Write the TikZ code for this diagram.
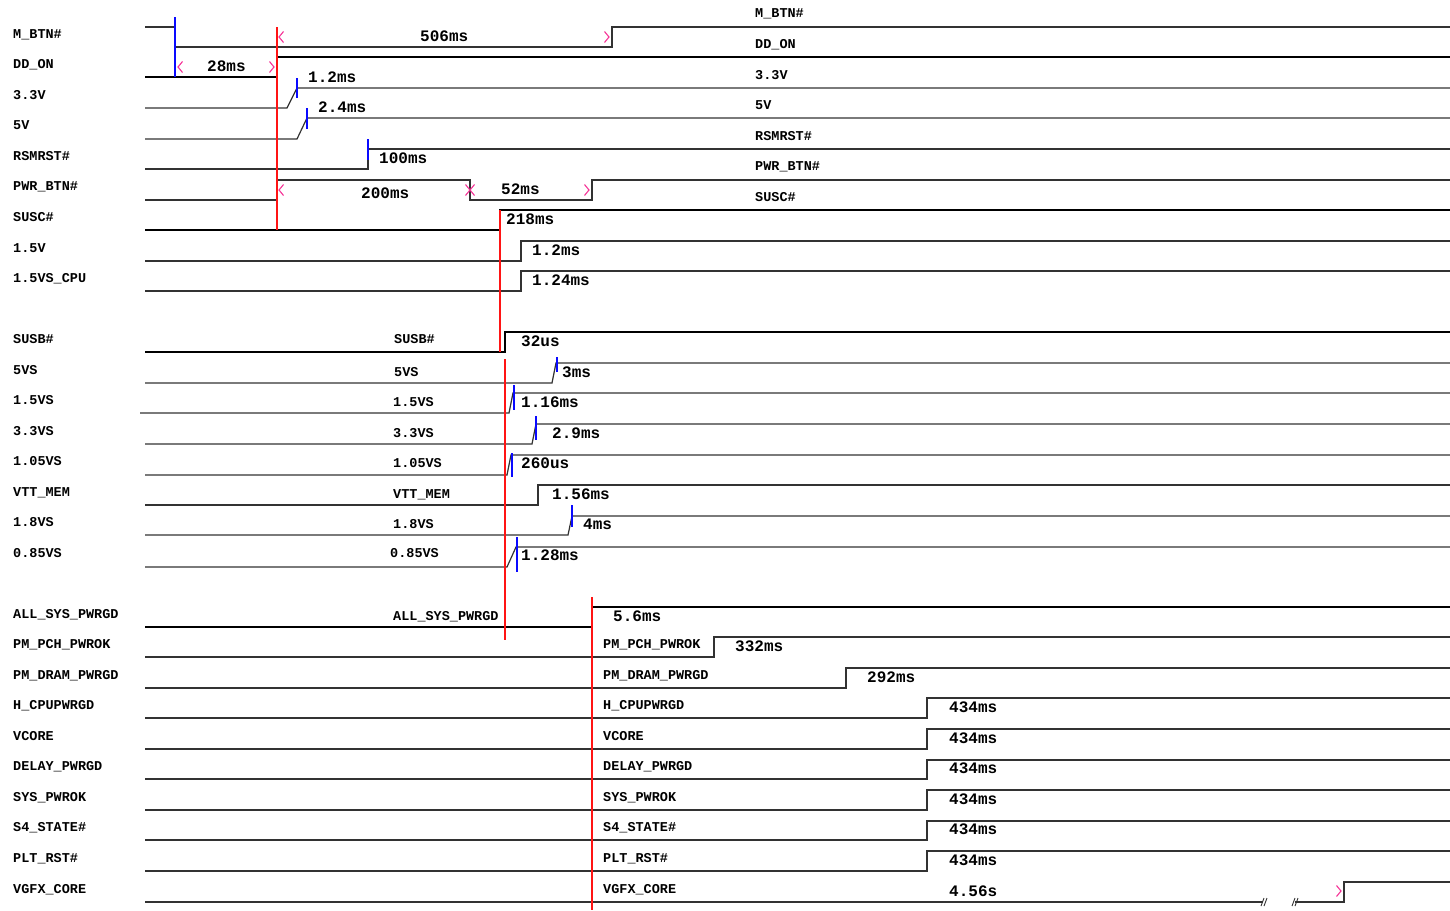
\documentclass[tikz,border=0pt]{standalone}
\usepackage{fontspec}
\setmainfont{Liberation Mono}
\usetikzlibrary{positioning}
\definecolor{WaveGray}{RGB}{50,50,50}
\definecolor{CursorRed}{RGB}{255,20,20}
\definecolor{TickBlue}{RGB}{10,10,255}
\definecolor{ChevPink}{RGB}{245,50,150}
\tikzset{
	lchev/.pic={\draw[ChevPink, line width=1.1pt] (4.5,-5.5) -- (0,0) -- (4.5,5.5);},
	rchev/.pic={\draw[ChevPink, line width=1.1pt] (-4.5,-5.5) -- (0,0) -- (-4.5,5.5);}
}
\begin{document}
\begin{tikzpicture}[
	x=1pt,
	y=-1pt,
	wave/.style={
		draw=WaveGray,
		line width=1.2pt
	},
	buswave/.style={
		draw=black,
		line width=2.8pt
	},
	cursor/.style={
		draw=CursorRed,
		line width=1.4pt
	},
	ticker/.style={
		draw=TickBlue,
		line width=1.4pt
	},
	siglabel/.style={
		anchor=base west,
		inner sep=0pt,
		font=\fontsize{13.5}{14}\selectfont\bfseries
	},
	durlabel/.style={
		anchor=base west,
		inner sep=0pt,
		font=\fontsize{16}{16}\selectfont\bfseries
	}
	]
	
	\useasboundingbox (0,0) rectangle (1450,910);
	
	\node[siglabel] (nMBTN) at (13,38) {M\_BTN\#};
	\node[siglabel] (nDDON) at (13,68) {DD\_ON};
	\node[siglabel] (n33V) at (13,99) {3.3V};
	\node[siglabel] (n5V) at (13,129) {5V};
	\node[siglabel] (nRSMRST) at (13,160) {RSMRST\#};
	\node[siglabel] (nPWRBTN) at (13,190) {PWR\_BTN\#};
	\node[siglabel] (nSUSC) at (13,221) {SUSC\#};
	\node[siglabel] (n15V) at (13,252) {1.5V};
	\node[siglabel] (n15VSCPU) at (13,282) {1.5VS\_CPU};
	\node[siglabel] (nSUSB) at (13,343) {SUSB\#};
	\node[siglabel] (n5VS) at (13,374) {5VS};
	\node[siglabel] (n15VS) at (13,404) {1.5VS};
	\node[siglabel] (n33VS) at (13,435) {3.3VS};
	\node[siglabel] (n105VS) at (13,465) {1.05VS};
	\node[siglabel] (nVTT) at (13,496) {VTT\_MEM};
	\node[siglabel] (n18VS) at (13,526) {1.8VS};
	\node[siglabel] (n085VS) at (13,557) {0.85VS};
	\node[siglabel] (nALLSYS) at (13,618) {ALL\_SYS\_PWRGD};
	\node[siglabel] (nPCH) at (13,648) {PM\_PCH\_PWROK};
	\node[siglabel] (nDRAM) at (13,679) {PM\_DRAM\_PWRGD};
	\node[siglabel] (nHCPU) at (13,709) {H\_CPUPWRGD};
	\node[siglabel] (nVCORE) at (13,740) {VCORE};
	\node[siglabel] (nDELAY) at (13,770) {DELAY\_PWRGD};
	\node[siglabel] (nSYSOK) at (13,801) {SYS\_PWROK};
	\node[siglabel] (nS4) at (13,831) {S4\_STATE\#};
	\node[siglabel] (nPLT) at (13,862) {PLT\_RST\#};
	\node[siglabel] (nVGFX) at (13,893) {VGFX\_CORE};
	
	\node[siglabel] (rMBTN) at (755,17) {M\_BTN\#};
	\node[siglabel] (rDDON) at (755,48) {DD\_ON};
	\node[siglabel] (r33V) at (755,79) {3.3V};
	\node[siglabel] (r5V) at (755,109) {5V};
	\node[siglabel] (rRSMRST) at (755,140) {RSMRST\#};
	\node[siglabel] (rPWRBTN) at (755,170) {PWR\_BTN\#};
	\node[siglabel] (rSUSC) at (755,201) {SUSC\#};
	
	\node[siglabel] (mSUSB) at (394,343) {SUSB\#};
	\node[siglabel] (m5VS) at (394,376) {5VS};
	\node[siglabel] (m15VS) at (393,406) {1.5VS};
	\node[siglabel] (m33VS) at (393,437) {3.3VS};
	\node[siglabel] (m105VS) at (393,467) {1.05VS};
	\node[siglabel] (mVTT) at (393,498) {VTT\_MEM};
	\node[siglabel] (m18VS) at (393,528) {1.8VS};
	\node[siglabel] (m085VS) at (390,557) {0.85VS};
	\node[siglabel] (mALLSYS) at (393,620) {ALL\_SYS\_PWRGD};
	
	\node[siglabel] (pPCH) at (603,648) {PM\_PCH\_PWROK};
	\node[siglabel] (pDRAM) at (603,679) {PM\_DRAM\_PWRGD};
	\node[siglabel] (pHCPU) at (603,709) {H\_CPUPWRGD};
	\node[siglabel] (pVCORE) at (603,740) {VCORE};
	\node[siglabel] (pDELAY) at (603,770) {DELAY\_PWRGD};
	\node[siglabel] (pSYSOK) at (603,801) {SYS\_PWROK};
	\node[siglabel] (pS4) at (603,831) {S4\_STATE\#};
	\node[siglabel] (pPLT) at (603,862) {PLT\_RST\#};
	\node[siglabel] (pVGFX) at (603,893) {VGFX\_CORE};
	
	\draw[wave] (145,27) -- (175,27) -- (175,47) -- (612,47) -- (612,27) -- (1450,27);
	\draw[buswave] (145,77) -- (277,77) -- (277,57) -- (1450,57);
	\draw[wave] (145,108) -- (287,108) -- (297,88) -- (1450,88);
	\draw[wave] (145,139) -- (297,139) -- (307,118) -- (1450,118);
	\draw[wave] (145,169) -- (368,169) -- (368,149) -- (1450,149);
	\draw[wave] (145,200) -- (277,200) -- (277,180) -- (470,180) -- (470,200) -- (592,200) -- (592,180) -- (1450,180);
	\draw[buswave] (145,230) -- (500,230) -- (500,210) -- (1450,210);
	\draw[wave] (145,261) -- (521,261) -- (521,241) -- (1450,241);
	\draw[wave] (145,291) -- (521,291) -- (521,271) -- (1450,271);
	
	\draw[buswave] (145,352) -- (505,352) -- (505,332) -- (1450,332);
	\draw[wave] (145,383) -- (552,383) -- (556,363) -- (1450,363);
	\draw[wave] (140,413) -- (509,413) -- (513,393) -- (1450,393);
	\draw[wave] (145,444) -- (532,444) -- (536,424) -- (1450,424);
	\draw[wave] (145,475) -- (507,475) -- (511,455) -- (1450,455);
	\draw[wave] (145,505) -- (538,505) -- (538,485) -- (1450,485);
	\draw[wave] (145,535) -- (568,535) -- (572,516) -- (1450,516);
	\draw[wave] (145,567) -- (507,567) -- (516,547) -- (1450,547);
	
	\draw[buswave] (145,627) -- (592,627) -- (592,607) -- (1450,607);
	\draw[wave] (145,657) -- (714,657) -- (714,637) -- (1450,637);
	\draw[wave] (145,688) -- (846,688) -- (846,668) -- (1450,668);
	\draw[wave] (145,718) -- (927,718) -- (927,698) -- (1450,698);
	\draw[wave] (145,749) -- (927,749) -- (927,729) -- (1450,729);
	\draw[wave] (145,779) -- (927,779) -- (927,760) -- (1450,760);
	\draw[wave] (145,810) -- (927,810) -- (927,790) -- (1450,790);
	\draw[wave] (145,840) -- (927,840) -- (927,821) -- (1450,821);
	\draw[wave] (145,871) -- (927,871) -- (927,851) -- (1450,851);
	\draw[wave] (145,902) -- (1263,902);
	\draw[wave] (1295,902) -- (1344,902) -- (1344,882) -- (1450,882);
	\draw[wave, line width=0.9pt] (1261,906) -- (1264,898) (1264,906) -- (1267,898);
	\draw[wave, line width=0.9pt] (1292,906) -- (1295,898) (1295,906) -- (1298,898);
	\draw[wave, line width=2pt] (1365,760) -- (1375,760) (1365,790) -- (1385,790) (1344,821) -- (1365,821);
	
	\draw[ticker] (175,17) -- (175,77);
	\draw[ticker] (297,78) -- (297,98);
	\draw[ticker] (307,108) -- (307,129);
	\draw[ticker] (368,139) -- (368,160);
	\draw[ticker] (557,357) -- (557,372);
	\draw[ticker] (514,385) -- (514,410);
	\draw[ticker] (536,416) -- (536,440);
	\draw[ticker] (512,453) -- (512,477);
	\draw[ticker] (572,505) -- (572,527);
	\draw[ticker] (517,537) -- (517,572);
	
	\draw[cursor] (277,27) -- (277,230);
	\draw[cursor] (500,210) -- (500,352);
	\draw[cursor] (505,359) -- (505,640);
	\draw[cursor] (592,597) -- (592,910);
	
	\pic at (178,67) {lchev};
	\pic at (274,67) {rchev};
	\pic at (279,37) {lchev};
	\pic at (609,37) {rchev};
	\pic at (279,190) {lchev};
	\pic at (470,190) {rchev};
	\pic at (470,190) {lchev};
	\pic at (589,190) {rchev};
	\pic at (1341,891) {rchev};
	
	\node[durlabel] (d506) at (420,41) {506ms};
	\node[durlabel] (d28) at (207,71) {28ms};
	\node[durlabel] (d12a) at (308,82) {1.2ms};
	\node[durlabel] (d24) at (318,112) {2.4ms};
	\node[durlabel] (d100) at (379,163) {100ms};
	\node[durlabel] (d200) at (361,198) {200ms};
	\node[durlabel] (d52) at (501,194) {52ms};
	\node[durlabel] (d218) at (506,224) {218ms};
	\node[durlabel] (d12b) at (532,255) {1.2ms};
	\node[durlabel] (d124) at (532,285) {1.24ms};
	\node[durlabel] (d32) at (521,346) {32us};
	\node[durlabel] (d3) at (562,377) {3ms};
	\node[durlabel] (d116) at (521,407) {1.16ms};
	\node[durlabel] (d29) at (552,438) {2.9ms};
	\node[durlabel] (d260) at (521,468) {260us};
	\node[durlabel] (d156) at (552,499) {1.56ms};
	\node[durlabel] (d4) at (583,529) {4ms};
	\node[durlabel] (d128) at (521,560) {1.28ms};
	\node[durlabel] (d56) at (613,621) {5.6ms};
	\node[durlabel] (d332) at (735,651) {332ms};
	\node[durlabel] (d292) at (867,682) {292ms};
	\node[durlabel] (d434a) at (949,712) {434ms};
	\node[durlabel] (d434b) at (949,743) {434ms};
	\node[durlabel] (d434c) at (949,773) {434ms};
	\node[durlabel] (d434d) at (949,804) {434ms};
	\node[durlabel] (d434e) at (949,834) {434ms};
	\node[durlabel] (d434f) at (949,865) {434ms};
	\node[durlabel] (d456) at (949,896) {4.56s};
	
\end{tikzpicture}
\end{document}
